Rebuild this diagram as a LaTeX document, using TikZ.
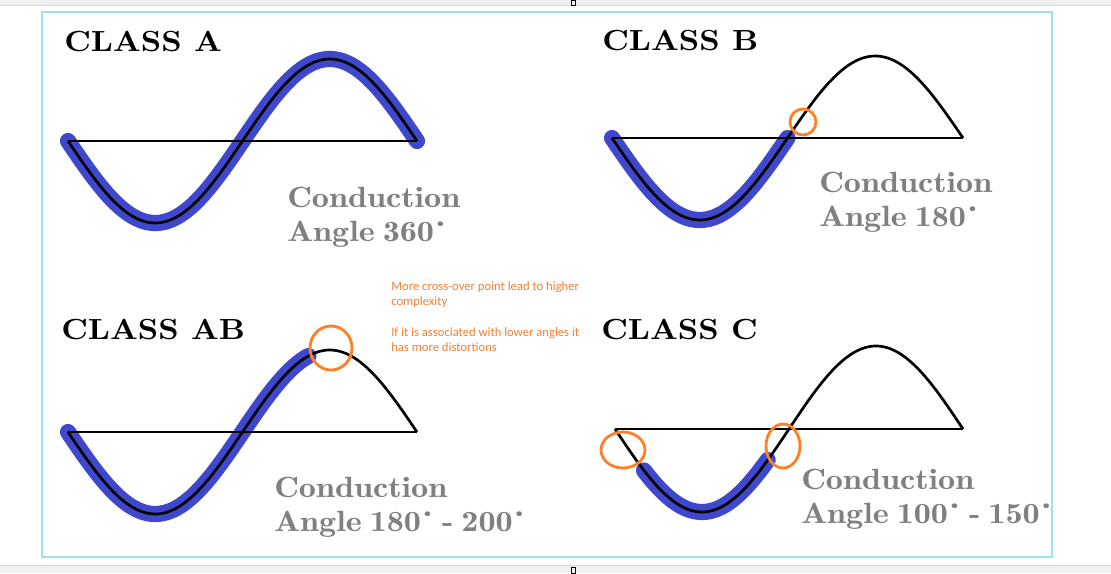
\documentclass[tikz,border=0pt]{standalone}
\usepackage{fontspec}
\usepackage{graphicx}
\newfontfamily\headfont[Extension=.otf,FakeStretch=1.1]{lmroman10-bold}
\newfontfamily\condfont[Extension=.otf,FakeStretch=1.17,WordSpace=0.7]{lmromandemi10-regular}
\newfontfamily\notefont{Carlito}
\newcommand{\dgr}{\kern-0.01em\raisebox{0.5em}{\scalebox{0.5}{\textbullet}}}
\definecolor{bandblue}{RGB}{63,72,204}
\definecolor{ringorange}{RGB}{255,127,39}
\definecolor{noteorange}{RGB}{242,128,52}
\definecolor{condgray}{RGB}{128,128,128}
\definecolor{framecyan}{RGB}{160,222,244}
\definecolor{barfill}{RGB}{240,240,240}
\definecolor{barline}{RGB}{215,215,215}

\begin{document}
\begin{tikzpicture}[x=0.025cm,y=-0.025cm,
	band/.style={line width=11.5pt,color=bandblue,line cap=round},
	wave/.style={line width=1.9pt,line join=round},
	axisline/.style={line width=1.4pt},
	ring/.style={line width=2pt,draw=ringorange},
	classlabel/.style={anchor=base west,inner sep=0pt,font=\headfont\fontsize{20.7}{24}\selectfont},
	condlabel/.style={anchor=north west,inner sep=0pt,align=left,text=condgray,font=\condfont\fontsize{20.8}{24.2}\selectfont},
	notelabel/.style={anchor=north west,inner sep=0pt,align=left,text=noteorange,font=\notefont\fontsize{9}{10.7}\selectfont}]
	\useasboundingbox (0,0) rectangle (1111,573);
	\fill[white] (0,0) rectangle (1111,573);
	% window bars of the screenshot
	\fill[barfill] (0,0) rectangle (1111,5);
	\draw[barline] (0,5.5) -- (1111,5.5);
	\fill[barfill] (0,566) rectangle (1111,573);
	\draw[barline] (0,565.5) -- (1111,565.5);
	\draw[line width=0.5pt] (571.5,0) rectangle (575.5,5);
	\draw[line width=0.5pt] (571.5,567) rectangle (575.5,573);
	\draw[framecyan,line width=1.3pt] (42,12) rectangle (1052,557);

	% class A: whole cycle conducts
	\draw[band] plot[domain=0:360,samples=73,smooth] ({68+\x/360*349},{141+82*sin(\x)});
	\draw[axisline] (68,141) -- (417,141);
	\draw[wave] plot[domain=0:360,samples=73,smooth] ({68+\x/360*349},{141+82*sin(\x)});
	\node[classlabel] (classA) at (64,51) {CLASS A};
	\node[condlabel] (condA) at (287,187) {Conduction\\Angle 360\dgr};

	% class B: half cycle
	\draw[band] plot[domain=0:180,samples=37,smooth] ({612+\x/360*351},{138+82*sin(\x)});
	\draw[axisline] (612,138) -- (963,138);
	\draw[wave] plot[domain=0:360,samples=73,smooth] ({612+\x/360*351},{138+82*sin(\x)});
	\draw[ring] (803,122) circle (13);
	\node[classlabel] (classB) at (602,50) {CLASS B};
	\node[condlabel] (condB) at (819,172) {Conduction\\Angle 180\dgr};

	% class AB: a bit more than half
	\draw[band] plot[domain=0:248,samples=50,smooth] ({68+\x/360*349},{432+82*sin(\x)});
	\draw[axisline] (68,432) -- (417,432);
	\draw[wave] plot[domain=0:360,samples=73,smooth] ({68+\x/360*349},{432+82*sin(\x)});
	\draw[ring] (331,348) ellipse (21 and 22);
	\node[classlabel] (classAB) at (61,339) {CLASS AB};
	\node[condlabel] (condAB) at (274,477) {Conduction\\Angle 180\dgr\ - 200\dgr};

	% class C: less than half
	\draw[band] plot[domain=30:158,samples=33,smooth] ({615+\x/360*348},{429+83*sin(\x)});
	\draw[axisline] (615,429) -- (963,429);
	\draw[wave] plot[domain=0:360,samples=73,smooth] ({615+\x/360*348},{429+83*sin(\x)});
	\draw[ring] (623,450) ellipse (22 and 18);
	\draw[ring] (783,446) ellipse (17 and 22);
	\node[classlabel] (classC) at (601,339) {CLASS C};
	\node[condlabel] (condC) at (801,469) {Conduction\\Angle 100\dgr\ - 150\dgr};

	% notes
	\node[notelabel] (noteA) at (391,281) {More cross-over point lead to higher\\complexity};
	\node[notelabel] (noteB) at (391,327) {If it is associated with lower angles it\\has more distortions};
\end{tikzpicture}
\end{document}
